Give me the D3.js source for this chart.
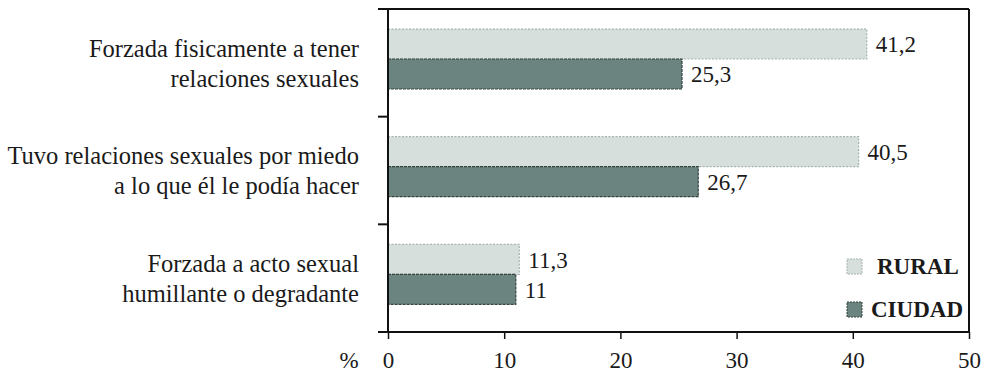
<!DOCTYPE html>
<html><head><meta charset="utf-8">
<script src="https://cdn.jsdelivr.net/npm/d3@7"></script>
<style>body{margin:0;background:#fff}svg{display:block}</style>
</head><body><svg id="c" width="992" height="378"></svg>
<script>
const categories = [
  ["Forzada fisicamente a tener", "relaciones sexuales"],
  ["Tuvo relaciones sexuales por miedo", "a lo que él le podía hacer"],
  ["Forzada a acto sexual", "humillante o degradante"]
];
const seriesNames = ["RURAL", "CIUDAD"];
const rural = [41.2, 40.5, 11.3];
const ciudad = [25.3, 26.7, 11];
const valueLabels = [["41,2","25,3"],["40,5","26,7"],["11,3","11"]];
const xTicks = [0, 10, 20, 30, 40, 50];

const FONT = "'Liberation Serif', 'Times New Roman', serif";
const colors = {RURAL:"#d7dfdd", CIUDAD:"#6c847f"};
const strokes = {RURAL:"#a6b2b0", CIUDAD:"#33423f"};

const svg = d3.select("#c");
const pLeft = 388, pRight = 969, pTop = 9, pBottom = 332;
const x = d3.scaleLinear().domain([0, 50]).range([pLeft, pRight]);
const yOuter = d3.scaleBand().domain(d3.range(categories.length)).range([pTop, pBottom]).padding(0);
const y1 = d3.scaleBand().domain(seriesNames).range([0, yOuter.bandwidth()]).paddingInner(0).paddingOuter(0.795).align(0.42);

// frame top & right
svg.append("line").attr("x1", 378).attr("x2", pRight).attr("y1", pTop).attr("y2", pTop).attr("stroke", "#111").attr("stroke-width", 2);
svg.append("line").attr("x1", pRight).attr("x2", pRight).attr("y1", pTop).attr("y2", pBottom).attr("stroke", "#111").attr("stroke-width", 2);

// bars
const data = categories.map((c, i) => ({i, vals: [rural[i], ciudad[i]]}));
const g = svg.selectAll("g.cat").data(data).join("g").attr("transform", d => `translate(0,${yOuter(d.i)})`);
seriesNames.forEach((s, si) => {
  g.append("rect")
    .attr("x", x(0))
    .attr("y", y1(s))
    .attr("width", d => x(d.vals[si]) - x(0))
    .attr("height", y1.bandwidth())
    .attr("fill", colors[s])
    .attr("stroke", strokes[s])
    .attr("stroke-width", 1.2)
    .attr("stroke-dasharray", si === 0 ? "2,1.5" : "3,1");
  g.append("text")
    .attr("x", d => x(d.vals[si]) + 9)
    .attr("y", y1(s) + y1.bandwidth() / 2 + 3)
    .attr("dominant-baseline", "middle")
    .attr("font-family", FONT)
    .attr("fill", "#1a1a1a")
    .attr("font-size", 23)
    .text(d => valueLabels[d.i][si]);
});

// category labels
const catG = svg.selectAll("text.cat").data(categories).join("text")
  .attr("class", "cat")
  .attr("text-anchor", "end")
  .attr("font-family", FONT)
  .attr("fill", "#1a1a1a")
  .attr("font-size", 24.5);
catG.each(function(lines, i) {
  d3.select(this).selectAll("tspan").data(lines).join("tspan")
    .attr("x", 359)
    .attr("y", (d, k) => yOuter(i) + y1(seriesNames[k]) + y1.bandwidth() / 2 + 7)
    .attr("dominant-baseline", "middle")
    .text(d => d);
});

// y axis with category ticks
const yAxisG = svg.append("g");
yAxisG.append("line").attr("x1", pLeft).attr("x2", pLeft).attr("y1", pTop).attr("y2", pBottom).attr("stroke", "#111").attr("stroke-width", 2);
const yTickPos = d3.range(categories.length).map(k => yOuter(k)).concat([pBottom]);
yAxisG.selectAll("line.yt").data(yTickPos).join("line").attr("class", "yt")
  .attr("x1", 378).attr("x2", pLeft).attr("y1", d => d).attr("y2", d => d)
  .attr("stroke", "#111").attr("stroke-width", 2);

// x axis
const xAxis = d3.axisBottom(x).tickValues(xTicks).tickSize(7).tickPadding(13).tickFormat(d3.format("d"));
const xg = svg.append("g").attr("transform", `translate(0,${pBottom})`).call(xAxis)
  .attr("font-family", FONT).attr("font-size", 23);
xg.select(".domain").remove();
xg.selectAll(".tick line").attr("stroke", "#111").attr("stroke-width", 1.5);
xg.selectAll(".tick text").attr("fill", "#1a1a1a");
svg.append("line").attr("x1", 378).attr("x2", pRight).attr("y1", pBottom).attr("y2", pBottom).attr("stroke", "#111").attr("stroke-width", 2);
svg.append("text").attr("x", 349).attr("y", 363).attr("text-anchor", "middle").attr("dominant-baseline", "middle")
  .attr("font-family", FONT).attr("fill", "#1a1a1a").attr("font-size", 23).text("%");

// legend
const legend = svg.selectAll("g.leg").data(seriesNames).join("g").attr("class", "leg")
  .attr("transform", (d, i) => `translate(847,${259 + i * 43})`);
legend.append("rect").attr("width", 15).attr("height", 15)
  .attr("fill", d => colors[d]).attr("stroke", d => strokes[d]).attr("stroke-width", 1).attr("stroke-dasharray", "2,1");
legend.append("text").attr("x", (d, i) => i === 0 ? 30 : 24).attr("y", 10)
  .attr("dominant-baseline", "middle").attr("font-family", FONT).attr("fill", "#1a1a1a")
  .attr("font-size", 23).attr("font-weight", "bold").text(d => d);
</script></body></html>
